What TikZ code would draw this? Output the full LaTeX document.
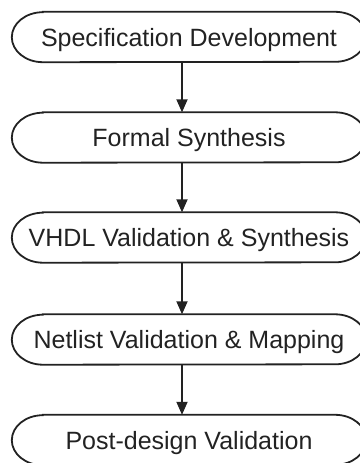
\documentclass[tikz,border=0pt]{standalone}
\usepackage{fontspec}
\setmainfont{Liberation Sans}
\usetikzlibrary{arrows.meta}
\definecolor{ink}{HTML}{222222}
\tikzset{
  stage/.style={minimum width=354pt, minimum height=50pt, inner sep=0pt,
    text height=18pt, text depth=0pt, text=ink,
    font=\fontsize{25}{30}\selectfont},
  boxline/.style={draw=ink, line width=1.8pt},
  arr/.style={draw=ink, line width=1.8pt, -{Triangle[length=13pt,width=11pt]}}
}
\newcommand\stadium[1]{%
  \draw[boxline] ([xshift=31pt]#1.north west) -- ([xshift=-31pt]#1.north east)
    arc[start angle=90,end angle=-90,x radius=31pt,y radius=25pt]
    -- ([xshift=31pt]#1.south west)
    arc[start angle=270,end angle=90,x radius=31pt,y radius=25pt] -- cycle;}
\begin{document}
\begin{tikzpicture}[x=1pt,y=-1pt]
\useasboundingbox (0,0) rectangle (359,463);
\node[stage] (b1) at (189,37) {Specification Development};
\node[stage] (b2) at (189,137.5) {Formal Synthesis};
\node[stage] (b3) at (189,237.5) {VHDL Validation \& Synthesis};
\node[stage] (b4) at (189,339.5) {Netlist Validation \& Mapping};
\node[stage] (b5) at (189,440) {Post-design Validation};
\foreach \b in {b1,b2,b3,b4,b5}{\stadium{\b}}
\coordinate (ax) at (182,0);
\draw[arr] (b1.south -| ax) -- (b2.north -| ax);
\draw[arr] (b2.south -| ax) -- (b3.north -| ax);
\draw[arr] (b3.south -| ax) -- (b4.north -| ax);
\draw[arr] (b4.south -| ax) -- (b5.north -| ax);
\end{tikzpicture}
\end{document}
